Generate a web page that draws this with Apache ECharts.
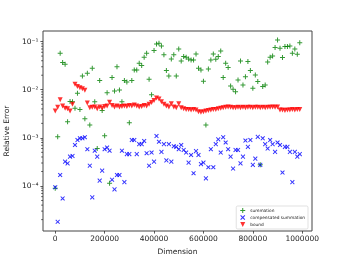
<!DOCTYPE html>
<html>
<head>
<meta charset="utf-8">
<style>
html,body{margin:0;padding:0;background:#fff;}
#chart{width:346px;height:260px;}
</style>
<script src="https://cdn.jsdelivr.net/npm/echarts@6/dist/echarts.min.js"></script>
</head>
<body>
<div id="chart"></div>
<script>
const dims = [
  0,10000,20000,30000,40000,50000,60000,70000,80000,90000,
  100000,110000,120000,130000,140000,150000,160000,170000,180000,190000,
  200000,210000,220000,230000,240000,250000,260000,270000,280000,290000,
  300000,310000,320000,330000,340000,350000,360000,370000,380000,390000,
  400000,410000,420000,430000,440000,450000,460000,470000,480000,490000,
  500000,510000,520000,530000,540000,550000,560000,570000,580000,590000,
  600000,610000,620000,630000,640000,650000,660000,670000,680000,690000,
  700000,710000,720000,730000,740000,750000,760000,770000,780000,790000,
  800000,810000,820000,830000,840000,850000,860000,870000,880000,890000,
  900000,910000,920000,930000,940000,950000,960000,970000,980000,990000
];
const summation = [
  9e-5,1.05e-3,0.057,0.0366,0.034,2.17e-3,5.7e-3,5.6e-3,4.1e-3,8.4e-3,
  3.9e-3,0.0193,2.5e-3,0.022,1.85e-3,0.028,5.6e-3,6e-4,0.0155,3.7e-3,
  1.1e-3,8.7e-3,1.14e-4,0.0179,9.4e-3,0.030,9.9e-3,5.6e-3,0.0155,0.0145,
  2.07e-3,0.0155,0.0258,0.0258,0.0355,0.0317,0.047,0.057,0.0165,7.9e-3,
  0.065,0.089,0.092,0.081,0.053,0.025,0.0193,0.0436,0.053,0.0193,
  0.070,0.0396,0.0488,0.047,0.0436,0.0415,0.0415,0.055,0.028,0.0258,
  0.015,1.85e-3,0.027,0.0415,0.055,0.043,0.0488,0.064,0.0179,0.0355,
  0.029,0.012,0.0102,9.1e-3,0.016,0.0396,0.0126,0.0187,0.0385,0.025,
  0.0107,0.0203,0.0148,2.75e-4,0.0116,0.0125,0.0375,0.047,0.05,0.075,
  0.108,0.073,0.0465,0.079,0.079,0.081,0.057,0.07,0.0545,0.095
];
const compensated = [
  9.4e-5,1.8e-5,1.69e-4,5.5e-5,3.2e-4,2.95e-4,4.07e-4,4.2e-4,7.1e-4,9.0e-4,
  9.8e-4,9.8e-4,1.03e-3,5.8e-4,2.64e-4,5.8e-5,5.4e-4,4.07e-4,1.29e-4,2.08e-4,
  5.8e-4,6.3e-4,5.4e-4,1.35e-4,8.5e-5,1.69e-4,1.69e-4,5.4e-4,1.2e-4,4.6e-4,
  4.6e-4,9.0e-4,9.0e-4,4.6e-4,7.4e-4,7.4e-4,8.6e-4,4.8e-4,2.64e-4,4.95e-4,
  3.2e-4,1.09e-3,8.3e-4,5.1e-4,7.4e-4,3.4e-4,7.4e-4,3.2e-4,6.7e-4,6.5e-4,
  5.8e-4,7.1e-4,5.6e-4,4.95e-4,3.05e-4,4.4e-4,1.84e-4,5.3e-4,4.4e-4,2.85e-4,
  3.05e-4,1.44e-4,2.45e-4,5.8e-4,2.45e-4,7.4e-4,9.3e-4,4.95e-4,1.03e-3,8.0e-4,
  5.8e-4,4.07e-4,2.3e-4,5.6e-4,5.6e-4,2.95e-4,4.07e-4,8.8e-4,6.5e-4,9.0e-4,
  2.75e-4,3.7e-4,1.05e-3,2.75e-4,9.8e-4,7.4e-4,6.0e-4,9.0e-4,7.4e-4,5.1e-4,
  8.0e-4,7.1e-4,1.9e-4,6.5e-4,6.5e-4,5.1e-4,1.2e-4,5.1e-4,4.07e-4,4.6e-4
];
const bound = [
  3.6e-3,4.3e-3,6.2e-3,4.6e-3,4.1e-3,4.0e-3,3.6e-3,5.0e-3,1.30e-2,1.16e-2,
  1.10e-2,1.05e-2,9.7e-3,5.3e-3,4.2e-3,4.3e-3,4.4e-3,4.0e-3,4.4e-3,4.1e-3,
  4.5e-3,4.6e-3,5.5e-3,4.7e-3,4.4e-3,4.6e-3,4.4e-3,4.5e-3,4.6e-3,4.5e-3,
  4.7e-3,4.6e-3,4.8e-3,4.6e-3,4.4e-3,4.5e-3,4.7e-3,4.6e-3,5.0e-3,5.4e-3,
  6.0e-3,6.7e-3,6.4e-3,5.6e-3,5.0e-3,4.6e-3,4.4e-3,5.1e-3,4.4e-3,4.2e-3,
  5.1e-3,4.2e-3,4.0e-3,3.9e-3,3.9e-3,3.8e-3,3.9e-3,3.8e-3,3.5e-3,3.4e-3,
  3.5e-3,3.6e-3,3.7e-3,3.8e-3,3.9e-3,3.9e-3,4.0e-3,4.1e-3,4.2e-3,4.3e-3,
  4.4e-3,4.3e-3,4.2e-3,4.2e-3,4.3e-3,4.2e-3,4.3e-3,4.2e-3,4.3e-3,4.3e-3,
  4.2e-3,4.3e-3,4.3e-3,4.2e-3,4.3e-3,4.2e-3,4.3e-3,4.3e-3,4.4e-3,4.3e-3,
  4.4e-3,3.8e-3,3.8e-3,3.7e-3,3.8e-3,3.8e-3,3.9e-3,3.8e-3,3.9e-3,3.9e-3
];
const seriesNames = ['summation', 'compensated summation', 'bound'];
const xTicks = [0, 200000, 400000, 600000, 800000, 1000000];
const yTicks = [1e-4, 1e-3, 1e-2, 1e-1];
const minorMultipliers = [2, 3, 4, 5, 6, 7, 8, 9];
const minorDecades = [1e-5, 1e-4, 1e-3, 1e-2, 1e-1];

const X_MIN = -49500, X_MAX = 1039500;
const Y_MIN = 1.16e-5, Y_MAX = 0.166;

const minorTicks = [];
minorDecades.forEach(d => minorMultipliers.forEach(m => {
  const v = d * m;
  if (v > Y_MIN && v < Y_MAX) minorTicks.push([X_MIN, v]);
}));

const PLUS = 'path://M4,0 H6 V4 H10 V6 H6 V10 H4 V6 H0 V4 H4 Z';
const CROSS = 'path://M0,1.5 L1.5,0 L5,3.5 L8.5,0 L10,1.5 L6.5,5 L10,8.5 L8.5,10 L5,6.5 L1.5,10 L0,8.5 L3.5,5 Z';
const TRI = 'path://M0,0 L10,0 L5,10 Z';

const FONT = 'DejaVu Sans';
const TXT = '#222';
const SUP = {'-': '\u207B', '0': '\u2070', '1': '\u00B9', '2': '\u00B2', '3': '\u00B3', '4': '\u2074', '5': '\u2075'};

const chart = echarts.init(document.getElementById('chart'), null, {renderer: 'canvas'});
chart.setOption({
  animation: false,
  backgroundColor: '#fff',
  textStyle: {fontFamily: FONT},
  grid: {left: 43, right: 34, top: 31, bottom: 29, show: true, borderColor: '#444', borderWidth: 1,
         backgroundColor: 'transparent', containLabel: false, outerBoundsMode: 'none'},
  legend: {
    orient: 'vertical', right: 38, bottom: 31,
    itemWidth: 5, itemHeight: 5, itemGap: 2,
    padding: [2, 3, 2, 4],
    borderColor: '#ccc', borderWidth: 0.6, borderRadius: 1.5,
    backgroundColor: 'rgba(255,255,255,0.8)',
    textStyle: {fontSize: 4.3, color: TXT, fontFamily: FONT},
    data: seriesNames
  },
  xAxis: {
    type: 'value', min: X_MIN, max: X_MAX,
    axisLine: {show: false, onZero: false},
    splitLine: {show: false},
    axisTick: {show: true, length: 2.6, lineStyle: {color: '#333', width: 0.8}, customValues: xTicks},
    axisLabel: {customValues: xTicks, fontSize: 7.5, color: TXT, fontFamily: FONT, margin: 4.5, formatter: v => String(v)},
    name: 'Dimension', nameLocation: 'middle', nameGap: 14,
    nameTextStyle: {fontSize: 7.5, color: TXT, fontFamily: FONT}
  },
  yAxis: {
    type: 'log', logBase: 10, min: Y_MIN, max: Y_MAX,
    axisLine: {show: false, onZero: false},
    splitLine: {show: false},
    axisTick: {show: true, length: 2.6, lineStyle: {color: '#333', width: 0.8}, customValues: yTicks},
    axisLabel: {
      customValues: yTicks, margin: 4.5, color: TXT, fontFamily: FONT, fontSize: 7.5,
      formatter: v => {
        const e = String(Math.round(Math.log10(v)));
        return '10' + e.split('').map(c => SUP[c]).join('');
      }
    },
    name: 'Relative Error', nameLocation: 'middle', nameGap: 26,
    nameTextStyle: {fontSize: 7.5, color: TXT, fontFamily: FONT}
  },
  series: [
    {
      type: 'custom', name: '_minor', silent: true, clip: false, z: 1,
      encode: {x: 0, y: 1},
      data: minorTicks,
      renderItem: (params, api) => {
        const p = api.coord([api.value(0), api.value(1)]);
        return {type: 'line', shape: {x1: p[0] - 1.8, y1: p[1], x2: p[0], y2: p[1]}, style: {stroke: '#333', lineWidth: 0.8}};
      }
    },
    {
      type: 'scatter', name: seriesNames[0], symbol: PLUS, symbolSize: [5, 5],
      itemStyle: {color: '#008000'},
      data: dims.map((d, i) => [d, summation[i]])
    },
    {
      type: 'scatter', name: seriesNames[1], symbol: CROSS, symbolSize: [4.6, 4.6],
      itemStyle: {color: '#0000ff'},
      data: dims.map((d, i) => [d, compensated[i]])
    },
    {
      type: 'scatter', name: seriesNames[2], symbol: TRI, symbolSize: [5, 5],
      itemStyle: {color: '#ff0000'},
      data: dims.map((d, i) => [d, bound[i]])
    }
  ]
});
</script>
</body>
</html>
